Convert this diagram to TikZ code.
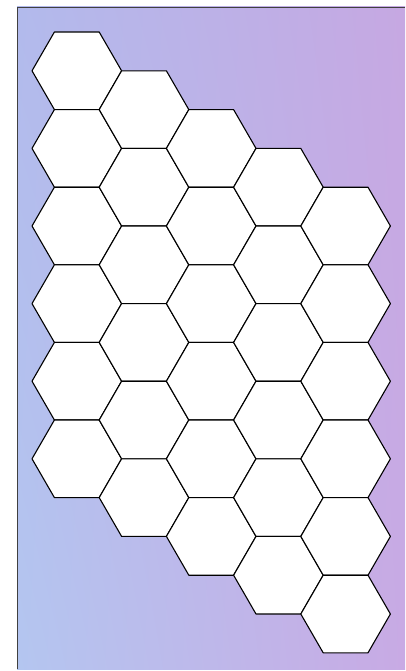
\documentclass[tikz,border=0pt]{standalone}
\usetikzlibrary{shapes.geometric,shadings}
\definecolor{ulc}{RGB}{178,186,236}
\definecolor{urc}{RGB}{198,168,226}
\definecolor{llc}{RGB}{180,198,240}
\definecolor{lrc}{RGB}{200,170,228}
\tikzset{
  hexcell/.style={regular polygon, regular polygon sides=6, minimum size=89.6pt,
    inner sep=0pt, outer sep=0pt, draw=black, line width=1.1pt, fill=white, line join=round},
  frameline/.style={draw=black!75, line width=0.8pt}
}
\begin{document}
\begin{tikzpicture}[x=1pt,y=-1pt]
\useasboundingbox (0,0) rectangle (405,671);
\fill[white] (0,0) rectangle (405,671);
\shade[upper left=ulc, upper right=urc, lower left=llc, lower right=lrc] (17,7) rectangle (405,669);
\coordinate (fa) at (17,669);
\coordinate (fb) at (17,7);
\coordinate (fc) at (405,7);
\draw[frameline] (fa) -- (fb) -- (fc);
\foreach \c in {0,...,4}{
  \foreach \r in {0,...,5}{
    \node[hexcell] (h-\c-\r) at ({76.8+67.2*\c},{70.8+38.8*\c+77.6*\r}) {};
  }
}
\end{tikzpicture}
\end{document}
